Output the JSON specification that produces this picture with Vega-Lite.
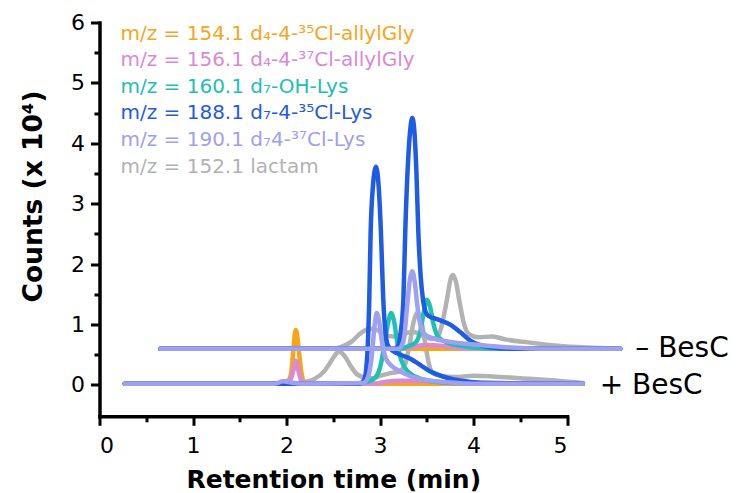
{
  "$schema": "https://vega.github.io/schema/vega-lite/v6.json",
  "autosize": {"type": "none"},
  "padding": {"left": 99.5, "top": 22.5, "right": 174, "bottom": 76.7},
  "width": 467.5,
  "height": 393.8,
  "background": "white",
  "config": {
    "view": {"stroke": null},
    "font": "DejaVu Sans",
    "axis": {
      "grid": false,
      "domainColor": "black",
      "domainWidth": 3.5,
      "domainCap": "square",
      "tickColor": "black",
      "tickWidth": 3,
      "labelColor": "black",
      "labelFont": "DejaVu Sans",
      "labelFontSize": 22,
      "titleFont": "DejaVu Sans",
      "titleFontSize": 25,
      "titleFontWeight": "bold",
      "titleColor": "black"
    }
  },
  "datasets": {
    "names": [
      {"id": "gray", "name": "m/z = 152.1 lactam"},
      {"id": "orange", "name": "m/z = 154.1 d₄-4-³⁵Cl-allylGly"},
      {"id": "pink", "name": "m/z = 156.1 d₄-4-³⁷Cl-allylGly"},
      {"id": "teal", "name": "m/z = 160.1 d₇-OH-Lys"},
      {"id": "blue", "name": "m/z = 188.1 d₇-4-³⁵Cl-Lys"},
      {"id": "lav", "name": "m/z = 190.1 d₇4-³⁷Cl-Lys"}
    ],
    "traces": [
      {"s": "gray", "g": "plus", "t": 0.27, "c": 0.02},
      {"s": "gray", "g": "plus", "t": 2.1, "c": 0.02},
      {"s": "gray", "g": "plus", "t": 2.2, "c": 0.05},
      {"s": "gray", "g": "plus", "t": 2.3, "c": 0.1},
      {"s": "gray", "g": "plus", "t": 2.4, "c": 0.22},
      {"s": "gray", "g": "plus", "t": 2.48, "c": 0.4},
      {"s": "gray", "g": "plus", "t": 2.54, "c": 0.53},
      {"s": "gray", "g": "plus", "t": 2.57, "c": 0.55},
      {"s": "gray", "g": "plus", "t": 2.62, "c": 0.48},
      {"s": "gray", "g": "plus", "t": 2.7, "c": 0.28},
      {"s": "gray", "g": "plus", "t": 2.76, "c": 0.17},
      {"s": "gray", "g": "plus", "t": 2.84, "c": 0.12},
      {"s": "gray", "g": "plus", "t": 2.92, "c": 0.11},
      {"s": "gray", "g": "plus", "t": 3.0, "c": 0.15},
      {"s": "gray", "g": "plus", "t": 3.1, "c": 0.19},
      {"s": "gray", "g": "plus", "t": 3.2, "c": 0.22},
      {"s": "gray", "g": "plus", "t": 3.27, "c": 0.35},
      {"s": "gray", "g": "plus", "t": 3.32, "c": 0.7},
      {"s": "gray", "g": "plus", "t": 3.36, "c": 1.05},
      {"s": "gray", "g": "plus", "t": 3.4, "c": 1.2},
      {"s": "gray", "g": "plus", "t": 3.44, "c": 1.08},
      {"s": "gray", "g": "plus", "t": 3.48, "c": 0.72},
      {"s": "gray", "g": "plus", "t": 3.52, "c": 0.37},
      {"s": "gray", "g": "plus", "t": 3.56, "c": 0.2},
      {"s": "gray", "g": "plus", "t": 3.65, "c": 0.15},
      {"s": "gray", "g": "plus", "t": 3.8, "c": 0.13},
      {"s": "gray", "g": "plus", "t": 4.0, "c": 0.15},
      {"s": "gray", "g": "plus", "t": 4.2, "c": 0.14},
      {"s": "gray", "g": "plus", "t": 4.5, "c": 0.11},
      {"s": "gray", "g": "plus", "t": 4.9, "c": 0.07},
      {"s": "gray", "g": "plus", "t": 5.17, "c": 0.03},
      {"s": "gray", "g": "minus", "t": 0.65, "c": 0.6},
      {"s": "gray", "g": "minus", "t": 2.5, "c": 0.6},
      {"s": "gray", "g": "minus", "t": 2.6, "c": 0.64},
      {"s": "gray", "g": "minus", "t": 2.7, "c": 0.72},
      {"s": "gray", "g": "minus", "t": 2.78, "c": 0.84},
      {"s": "gray", "g": "minus", "t": 2.85, "c": 0.91},
      {"s": "gray", "g": "minus", "t": 2.91, "c": 0.93},
      {"s": "gray", "g": "minus", "t": 2.98, "c": 0.9},
      {"s": "gray", "g": "minus", "t": 3.05, "c": 0.83},
      {"s": "gray", "g": "minus", "t": 3.15, "c": 0.8},
      {"s": "gray", "g": "minus", "t": 3.25, "c": 0.84},
      {"s": "gray", "g": "minus", "t": 3.35, "c": 0.88},
      {"s": "gray", "g": "minus", "t": 3.45, "c": 0.82},
      {"s": "gray", "g": "minus", "t": 3.55, "c": 0.76},
      {"s": "gray", "g": "minus", "t": 3.62, "c": 0.8},
      {"s": "gray", "g": "minus", "t": 3.67, "c": 1.05},
      {"s": "gray", "g": "minus", "t": 3.72, "c": 1.45},
      {"s": "gray", "g": "minus", "t": 3.755, "c": 1.75},
      {"s": "gray", "g": "minus", "t": 3.78, "c": 1.82},
      {"s": "gray", "g": "minus", "t": 3.81, "c": 1.72},
      {"s": "gray", "g": "minus", "t": 3.85, "c": 1.38},
      {"s": "gray", "g": "minus", "t": 3.9, "c": 1.0},
      {"s": "gray", "g": "minus", "t": 3.95, "c": 0.84},
      {"s": "gray", "g": "minus", "t": 4.05, "c": 0.79},
      {"s": "gray", "g": "minus", "t": 4.2, "c": 0.8},
      {"s": "gray", "g": "minus", "t": 4.35, "c": 0.75},
      {"s": "gray", "g": "minus", "t": 4.55, "c": 0.71},
      {"s": "gray", "g": "minus", "t": 4.9, "c": 0.65},
      {"s": "gray", "g": "minus", "t": 5.2, "c": 0.62},
      {"s": "gray", "g": "minus", "t": 5.57, "c": 0.6},

      {"s": "orange", "g": "plus", "t": 0.27, "c": 0.02},
      {"s": "orange", "g": "plus", "t": 1.88, "c": 0.02},
      {"s": "orange", "g": "plus", "t": 1.95, "c": 0.05},
      {"s": "orange", "g": "plus", "t": 2.02, "c": 0.07},
      {"s": "orange", "g": "plus", "t": 2.05, "c": 0.2},
      {"s": "orange", "g": "plus", "t": 2.075, "c": 0.6},
      {"s": "orange", "g": "plus", "t": 2.09, "c": 0.86},
      {"s": "orange", "g": "plus", "t": 2.1, "c": 0.91},
      {"s": "orange", "g": "plus", "t": 2.11, "c": 0.86},
      {"s": "orange", "g": "plus", "t": 2.13, "c": 0.6},
      {"s": "orange", "g": "plus", "t": 2.16, "c": 0.2},
      {"s": "orange", "g": "plus", "t": 2.19, "c": 0.05},
      {"s": "orange", "g": "plus", "t": 2.25, "c": 0.02},
      {"s": "orange", "g": "plus", "t": 5.17, "c": 0.02},
      {"s": "orange", "g": "minus", "t": 0.65, "c": 0.6},
      {"s": "orange", "g": "minus", "t": 5.57, "c": 0.6},

      {"s": "pink", "g": "plus", "t": 0.27, "c": 0.02},
      {"s": "pink", "g": "plus", "t": 1.9, "c": 0.02},
      {"s": "pink", "g": "plus", "t": 1.97, "c": 0.05},
      {"s": "pink", "g": "plus", "t": 2.04, "c": 0.08},
      {"s": "pink", "g": "plus", "t": 2.075, "c": 0.25},
      {"s": "pink", "g": "plus", "t": 2.1, "c": 0.4},
      {"s": "pink", "g": "plus", "t": 2.125, "c": 0.25},
      {"s": "pink", "g": "plus", "t": 2.16, "c": 0.07},
      {"s": "pink", "g": "plus", "t": 2.22, "c": 0.02},
      {"s": "pink", "g": "plus", "t": 2.95, "c": 0.02},
      {"s": "pink", "g": "plus", "t": 3.05, "c": 0.05},
      {"s": "pink", "g": "plus", "t": 3.2, "c": 0.07},
      {"s": "pink", "g": "plus", "t": 3.4, "c": 0.07},
      {"s": "pink", "g": "plus", "t": 3.6, "c": 0.05},
      {"s": "pink", "g": "plus", "t": 3.8, "c": 0.03},
      {"s": "pink", "g": "plus", "t": 5.17, "c": 0.02},
      {"s": "pink", "g": "minus", "t": 0.65, "c": 0.6},
      {"s": "pink", "g": "minus", "t": 3.25, "c": 0.6},
      {"s": "pink", "g": "minus", "t": 3.35, "c": 0.63},
      {"s": "pink", "g": "minus", "t": 3.5, "c": 0.66},
      {"s": "pink", "g": "minus", "t": 3.65, "c": 0.65},
      {"s": "pink", "g": "minus", "t": 3.8, "c": 0.62},
      {"s": "pink", "g": "minus", "t": 3.95, "c": 0.6},
      {"s": "pink", "g": "minus", "t": 5.57, "c": 0.6},

      {"s": "teal", "g": "plus", "t": 0.27, "c": 0.02},
      {"s": "teal", "g": "plus", "t": 2.78, "c": 0.02},
      {"s": "teal", "g": "plus", "t": 2.86, "c": 0.05},
      {"s": "teal", "g": "plus", "t": 2.95, "c": 0.12},
      {"s": "teal", "g": "plus", "t": 3.01, "c": 0.35},
      {"s": "teal", "g": "plus", "t": 3.05, "c": 0.7},
      {"s": "teal", "g": "plus", "t": 3.09, "c": 1.05},
      {"s": "teal", "g": "plus", "t": 3.12, "c": 1.19},
      {"s": "teal", "g": "plus", "t": 3.15, "c": 1.06},
      {"s": "teal", "g": "plus", "t": 3.18, "c": 0.75},
      {"s": "teal", "g": "plus", "t": 3.21, "c": 0.5},
      {"s": "teal", "g": "plus", "t": 3.26, "c": 0.3},
      {"s": "teal", "g": "plus", "t": 3.33, "c": 0.18},
      {"s": "teal", "g": "plus", "t": 3.42, "c": 0.11},
      {"s": "teal", "g": "plus", "t": 3.55, "c": 0.06},
      {"s": "teal", "g": "plus", "t": 3.8, "c": 0.03},
      {"s": "teal", "g": "plus", "t": 5.17, "c": 0.02},
      {"s": "teal", "g": "minus", "t": 0.65, "c": 0.6},
      {"s": "teal", "g": "minus", "t": 3.2, "c": 0.6},
      {"s": "teal", "g": "minus", "t": 3.3, "c": 0.64},
      {"s": "teal", "g": "minus", "t": 3.38, "c": 0.7},
      {"s": "teal", "g": "minus", "t": 3.43, "c": 0.88},
      {"s": "teal", "g": "minus", "t": 3.47, "c": 1.22},
      {"s": "teal", "g": "minus", "t": 3.5, "c": 1.41},
      {"s": "teal", "g": "minus", "t": 3.535, "c": 1.3},
      {"s": "teal", "g": "minus", "t": 3.57, "c": 1.02},
      {"s": "teal", "g": "minus", "t": 3.62, "c": 0.8},
      {"s": "teal", "g": "minus", "t": 3.72, "c": 0.7},
      {"s": "teal", "g": "minus", "t": 3.85, "c": 0.65},
      {"s": "teal", "g": "minus", "t": 4.0, "c": 0.62},
      {"s": "teal", "g": "minus", "t": 4.3, "c": 0.6},
      {"s": "teal", "g": "minus", "t": 5.57, "c": 0.6},

      {"s": "blue", "g": "plus", "t": 0.27, "c": 0.02},
      {"s": "blue", "g": "plus", "t": 2.78, "c": 0.02},
      {"s": "blue", "g": "plus", "t": 2.83, "c": 0.08},
      {"s": "blue", "g": "plus", "t": 2.86, "c": 0.4},
      {"s": "blue", "g": "plus", "t": 2.885, "c": 1.41},
      {"s": "blue", "g": "plus", "t": 2.9, "c": 2.53},
      {"s": "blue", "g": "plus", "t": 2.925, "c": 3.3},
      {"s": "blue", "g": "plus", "t": 2.957, "c": 3.61},
      {"s": "blue", "g": "plus", "t": 2.985, "c": 3.3},
      {"s": "blue", "g": "plus", "t": 3.01, "c": 2.53},
      {"s": "blue", "g": "plus", "t": 3.035, "c": 1.41},
      {"s": "blue", "g": "plus", "t": 3.06, "c": 0.85},
      {"s": "blue", "g": "plus", "t": 3.085, "c": 0.65},
      {"s": "blue", "g": "plus", "t": 3.15, "c": 0.55},
      {"s": "blue", "g": "plus", "t": 3.22, "c": 0.5},
      {"s": "blue", "g": "plus", "t": 3.33, "c": 0.43},
      {"s": "blue", "g": "plus", "t": 3.44, "c": 0.32},
      {"s": "blue", "g": "plus", "t": 3.54, "c": 0.22},
      {"s": "blue", "g": "plus", "t": 3.65, "c": 0.15},
      {"s": "blue", "g": "plus", "t": 3.79, "c": 0.09},
      {"s": "blue", "g": "plus", "t": 3.97, "c": 0.05},
      {"s": "blue", "g": "plus", "t": 4.2, "c": 0.03},
      {"s": "blue", "g": "plus", "t": 5.17, "c": 0.02},
      {"s": "blue", "g": "minus", "t": 0.65, "c": 0.6},
      {"s": "blue", "g": "minus", "t": 3.14, "c": 0.6},
      {"s": "blue", "g": "minus", "t": 3.19, "c": 0.64},
      {"s": "blue", "g": "minus", "t": 3.22, "c": 0.85},
      {"s": "blue", "g": "minus", "t": 3.25, "c": 1.41},
      {"s": "blue", "g": "minus", "t": 3.27, "c": 2.53},
      {"s": "blue", "g": "minus", "t": 3.3, "c": 3.7},
      {"s": "blue", "g": "minus", "t": 3.325, "c": 4.25},
      {"s": "blue", "g": "minus", "t": 3.345, "c": 4.42},
      {"s": "blue", "g": "minus", "t": 3.365, "c": 4.25},
      {"s": "blue", "g": "minus", "t": 3.39, "c": 3.5},
      {"s": "blue", "g": "minus", "t": 3.41, "c": 2.53},
      {"s": "blue", "g": "minus", "t": 3.435, "c": 1.8},
      {"s": "blue", "g": "minus", "t": 3.46, "c": 1.41},
      {"s": "blue", "g": "minus", "t": 3.49, "c": 1.2},
      {"s": "blue", "g": "minus", "t": 3.52, "c": 1.14},
      {"s": "blue", "g": "minus", "t": 3.61, "c": 1.09},
      {"s": "blue", "g": "minus", "t": 3.76, "c": 0.99},
      {"s": "blue", "g": "minus", "t": 3.86, "c": 0.87},
      {"s": "blue", "g": "minus", "t": 3.97, "c": 0.73},
      {"s": "blue", "g": "minus", "t": 4.07, "c": 0.66},
      {"s": "blue", "g": "minus", "t": 4.2, "c": 0.62},
      {"s": "blue", "g": "minus", "t": 4.4, "c": 0.6},
      {"s": "blue", "g": "minus", "t": 5.57, "c": 0.6},

      {"s": "lav", "g": "plus", "t": 0.27, "c": 0.02},
      {"s": "lav", "g": "plus", "t": 1.88, "c": 0.02},
      {"s": "lav", "g": "plus", "t": 1.96, "c": 0.06},
      {"s": "lav", "g": "plus", "t": 2.05, "c": 0.04},
      {"s": "lav", "g": "plus", "t": 2.15, "c": 0.02},
      {"s": "lav", "g": "plus", "t": 2.82, "c": 0.03},
      {"s": "lav", "g": "plus", "t": 2.87, "c": 0.12},
      {"s": "lav", "g": "plus", "t": 2.91, "c": 0.45},
      {"s": "lav", "g": "plus", "t": 2.94, "c": 0.95},
      {"s": "lav", "g": "plus", "t": 2.965, "c": 1.19},
      {"s": "lav", "g": "plus", "t": 2.99, "c": 1.06},
      {"s": "lav", "g": "plus", "t": 3.02, "c": 0.72},
      {"s": "lav", "g": "plus", "t": 3.06, "c": 0.45},
      {"s": "lav", "g": "plus", "t": 3.12, "c": 0.32},
      {"s": "lav", "g": "plus", "t": 3.22, "c": 0.22},
      {"s": "lav", "g": "plus", "t": 3.3, "c": 0.16},
      {"s": "lav", "g": "plus", "t": 3.4, "c": 0.11},
      {"s": "lav", "g": "plus", "t": 3.55, "c": 0.07},
      {"s": "lav", "g": "plus", "t": 3.75, "c": 0.04},
      {"s": "lav", "g": "plus", "t": 4.0, "c": 0.02},
      {"s": "lav", "g": "plus", "t": 5.17, "c": 0.02},
      {"s": "lav", "g": "minus", "t": 0.65, "c": 0.6},
      {"s": "lav", "g": "minus", "t": 3.2, "c": 0.6},
      {"s": "lav", "g": "minus", "t": 3.23, "c": 0.64},
      {"s": "lav", "g": "minus", "t": 3.26, "c": 0.8},
      {"s": "lav", "g": "minus", "t": 3.29, "c": 1.3},
      {"s": "lav", "g": "minus", "t": 3.32, "c": 1.75},
      {"s": "lav", "g": "minus", "t": 3.345, "c": 1.88},
      {"s": "lav", "g": "minus", "t": 3.37, "c": 1.72},
      {"s": "lav", "g": "minus", "t": 3.4, "c": 1.3},
      {"s": "lav", "g": "minus", "t": 3.43, "c": 1.0},
      {"s": "lav", "g": "minus", "t": 3.47, "c": 0.85},
      {"s": "lav", "g": "minus", "t": 3.57, "c": 0.77},
      {"s": "lav", "g": "minus", "t": 3.72, "c": 0.72},
      {"s": "lav", "g": "minus", "t": 3.93, "c": 0.68},
      {"s": "lav", "g": "minus", "t": 4.14, "c": 0.65},
      {"s": "lav", "g": "minus", "t": 4.4, "c": 0.62},
      {"s": "lav", "g": "minus", "t": 4.8, "c": 0.6},
      {"s": "lav", "g": "minus", "t": 5.57, "c": 0.6}
    ],
    "conditions": [
      {"label": "– BesC", "t": 5.73, "c": 0.47},
      {"label": "+ BesC", "t": 5.35, "c": -0.15}
    ]
  },
  "resolve": {"axis": {"x": "independent", "y": "independent"}},
  "layer": [
    {
      "data": {"name": "traces"},
      "transform": [
        {"lookup": "s", "from": {"data": {"name": "names"}, "key": "id", "fields": ["name"]}}
      ],
      "mark": {"type": "line", "strokeWidth": 4.5, "strokeCap": "round", "strokeJoin": "round", "interpolate": "monotone"},
      "encoding": {
        "x": {
          "field": "t", "type": "quantitative",
          "scale": {"domain": [0, 5], "nice": false, "zero": false},
          "axis": {"orient": "bottom", "values": [0, 1, 2, 3, 4, 5], "tickSize": 9, "labelPadding": 10, "title": "Retention time (min)", "titleBaseline": "alphabetic", "titleY": 71}
        },
        "y": {
          "field": "c", "type": "quantitative",
          "scale": {"domain": [-0.52, 6], "nice": false, "zero": false},
          "axis": {"orient": "left", "values": [0, 1, 2, 3, 4, 5, 6], "tickSize": 9, "labelPadding": 6, "title": "Counts (x 10⁴)", "titleFontSize": 26.5, "titleBaseline": "alphabetic", "titleX": -57.8, "titleY": 173.5}
        },
        "color": {
          "field": "name", "type": "nominal",
          "scale": {
            "domain": ["m/z = 154.1 d₄-4-³⁵Cl-allylGly", "m/z = 156.1 d₄-4-³⁷Cl-allylGly", "m/z = 160.1 d₇-OH-Lys", "m/z = 188.1 d₇-4-³⁵Cl-Lys", "m/z = 190.1 d₇4-³⁷Cl-Lys", "m/z = 152.1 lactam"],
            "range": ["#F8A51C", "#D98AD6", "#20C0B4", "#1F5CE6", "#A0A0F0", "#B2B2B2"]
          },
          "legend": {
            "orient": "none", "legendX": 1, "legendY": 1, "title": null,
            "symbolSize": 0, "symbolOpacity": 0, "symbolStrokeWidth": 0, "symbolType": "circle",
            "labelOffset": 0, "labelFontSize": 20, "labelFont": "DejaVu Sans", "labelLimit": 500,
            "rowPadding": 6.6, "padding": 0,
            "encode": {"labels": {"update": {"fill": {"signal": "scale('color', datum.value)"}}}}
          }
        },
        "detail": {"field": "g", "type": "nominal"}
      }
    },
    {
      "data": {"values": [{"t": 0, "c": 0}]},
      "mark": {"type": "point", "opacity": 0},
      "encoding": {
        "x": {
          "field": "t", "type": "quantitative",
          "scale": {"domain": [0, 5], "nice": false, "zero": false},
          "axis": {"orient": "bottom", "values": [0.5, 1.5, 2.5, 3.5, 4.5], "tickSize": 5.5, "labels": false, "domain": false, "title": null}
        },
        "y": {
          "field": "c", "type": "quantitative",
          "scale": {"domain": [-0.52, 6], "nice": false, "zero": false},
          "axis": {"orient": "left", "values": [0.5, 1.5, 2.5, 3.5, 4.5, 5.5], "tickSize": 5.5, "labels": false, "domain": false, "title": null}
        }
      }
    },
    {
      "data": {"name": "conditions"},
      "mark": {"type": "text", "align": "left", "baseline": "alphabetic", "fontSize": 28, "font": "DejaVu Sans", "color": "black"},
      "encoding": {
        "x": {"field": "t", "type": "quantitative", "axis": null},
        "y": {"field": "c", "type": "quantitative", "axis": null},
        "text": {"field": "label"}
      }
    }
  ]
}
